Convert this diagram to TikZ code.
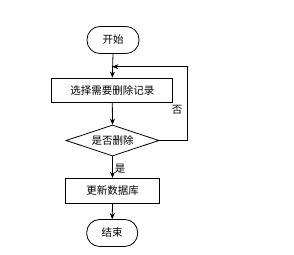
\documentclass[tikz,border=0pt]{standalone}
\usepackage{fontspec}
\newfontfamily\cjk{Noto Sans CJK SC}
\usetikzlibrary{arrows.meta,shapes.geometric}

\begin{document}
\begin{tikzpicture}[
    x=1pt, y=-1pt,
    term/.style={draw, rounded corners=13pt, line width=0.8pt,
                 minimum width=52pt, minimum height=27pt,
                 font=\fontsize{10.5}{12}\cjk},
    proc/.style={draw, line width=0.8pt,
                 minimum height=24pt,
                 font=\fontsize{10.5}{12}\cjk},
    cond/.style={draw, diamond, aspect=3, inner sep=0pt, line width=0.8pt,
                 minimum width=93pt, minimum height=31pt,
                 font=\fontsize{10.5}{12}\cjk},
    lbl/.style={font=\fontsize{10.5}{12}\cjk},
    arr/.style={-{Stealth[length=6pt,width=5pt]}, line width=0.8pt}
]
\useasboundingbox (0,0) rectangle (294,254);

% Noeuds
\node[term] (start) at (113, 40) {开始};
\node[proc, minimum width=121pt] (select) at (112.3, 90) {选择需要删除记录};
\node[cond] (check) at (112.5, 140.5) {是否删除};
\node[proc, minimum width=94pt, minimum height=25pt] (update) at (112.5, 190.8) {更新数据库};
\node[term, minimum width=51pt] (stop) at (112.2, 233) {结束};

% Flux principal
\draw[arr] (start.south) -- (select.north);
\draw[arr] (select.south) -- (check.north);
\draw[arr] (check.south) -- (update.north);
\draw[arr] (update.south) -- (stop.north);

% Retour (non)
\coordinate (corner) at (187.7, 66.7);
\coordinate (join) at (select.north |- corner);
\draw[arr] (check.east) -| (corner) -- (join);

% Etiquettes
\node[lbl] (no) at (177, 110) {否};
\node[lbl] (yes) at (120, 169) {是};
\end{tikzpicture}
\end{document}
